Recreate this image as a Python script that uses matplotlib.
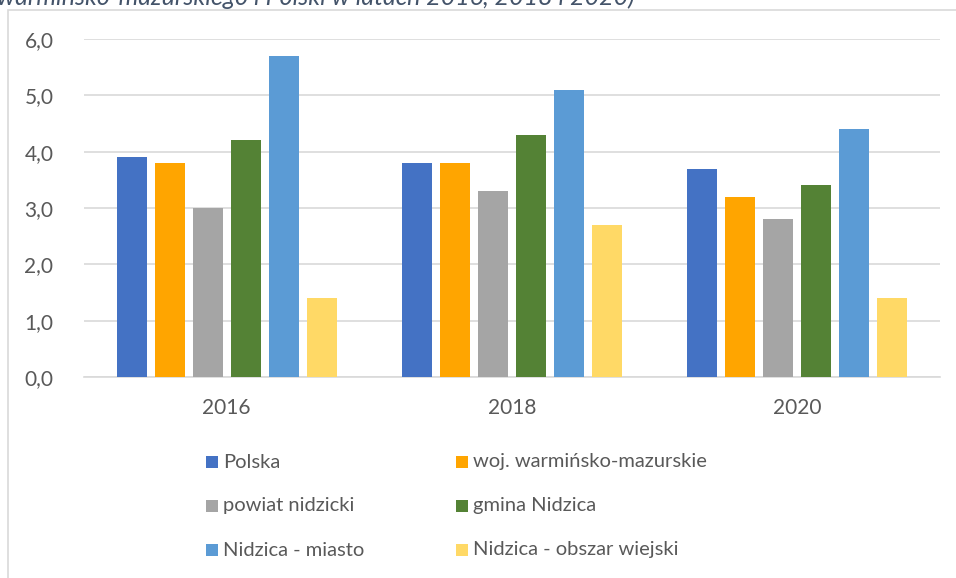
import matplotlib.pyplot as plt
import numpy as np
from matplotlib.patches import Rectangle

# Data
years = ['2016', '2018', '2020']
series = ['Polska', 'woj. warmińsko-mazurskie', 'powiat nidzicki',
          'gmina Nidzica', 'Nidzica - miasto', 'Nidzica - obszar wiejski']
polska = [3.9, 3.8, 3.7]
woj = [3.8, 3.8, 3.2]
powiat = [3.0, 3.3, 2.8]
gmina = [4.2, 4.3, 3.4]
miasto = [5.7, 5.1, 4.4]
wies = [1.4, 2.7, 1.4]
values = [polska, woj, powiat, gmina, miasto, wies]
colors = ['#4472C4', '#FFA500', '#A5A5A5', '#548235', '#5B9BD5', '#FFD966']

plt.rcParams['font.family'] = ['Lato', 'DejaVu Sans']
text_color = '#595959'
W, H = 956, 578

fig = plt.figure(figsize=(9.56, 5.78), dpi=100)
ax = fig.add_axes([84 / W, 1 - 377 / H, 856 / W, 338 / H])

# chart frame (cut off at right and bottom)
fig.patches.append(Rectangle((8 / W, -0.1), 1.2, 1 - 10 / H + 0.1,
                             transform=fig.transFigure, fill=False,
                             edgecolor='#D9D9D9', linewidth=1.2))

# title remnant, clipped at the top of the image
fig.text(-0.003, 1 - 5 / H, 'warmińsko-mazurskiego i Polski w latach 2016, 2018 i 2020)',
         fontsize=18, style='italic', color='#44546A', ha='left', va='baseline')

x = np.arange(len(years))
width = 30 / 285
step = 38 / 285
for i, (name, vals) in enumerate(zip(series, values)):
    ax.bar(x + (i - 2.5) * step, vals, width, color=colors[i], label=name, zorder=3)

ax.set_xlim(-0.5, 2.5)
ax.set_ylim(0, 6)
ax.set_yticks(np.arange(0, 7, 1))
ax.set_yticklabels([f'{v:.1f}'.replace('.', ',') for v in range(7)])
ax.set_xticks(x)
ax.set_xticklabels(years)
ax.yaxis.grid(True, color='#D9D9D9', linewidth=1.2, zorder=0)
ax.tick_params(axis='both', length=0, labelsize=15, labelcolor=text_color)
ax.tick_params(axis='y', pad=22)
ax.tick_params(axis='x', pad=15)
for s in ax.spines.values():
    s.set_visible(False)
ax.spines['bottom'].set_visible(True)
ax.spines['bottom'].set_color('#D9D9D9')
ax.spines['bottom'].set_linewidth(1.2)

# legend: 2 columns, 3 rows, drawn by hand to match spacing
sq = 12
for i, name in enumerate(series):
    col, row = i % 2, i // 2
    lx = 206 + col * 250
    ly = 462 + row * 44
    fig.patches.append(Rectangle((lx / W, 1 - (ly + sq / 2) / H), sq / W, sq / H,
                                 transform=fig.transFigure, facecolor=colors[i],
                                 edgecolor='none'))
    fig.text((lx + 17) / W, 1 - ly / H, name, fontsize=14.5, color=text_color,
             ha='left', va='center')

plt.savefig('out.png', dpi=100)
